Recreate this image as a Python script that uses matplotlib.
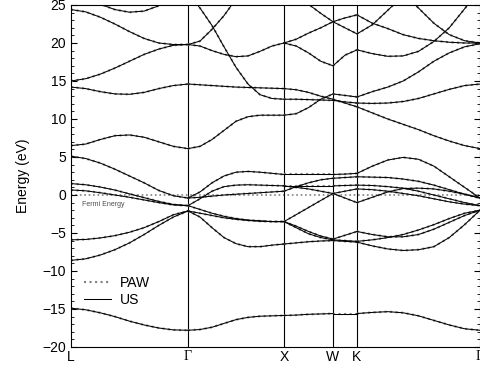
import numpy as np
import matplotlib.pyplot as plt
from matplotlib.ticker import MultipleLocator
from matplotlib.lines import Line2D

plt.rcParams['font.family'] = ['Liberation Sans', 'DejaVu Sans']

# high symmetry points along the path
kpoints = [0.0, 1.17, 2.13, 2.62, 2.86, 4.09]
klabels = ['L', 'Γ', 'X', 'W', 'K', 'Γ']

# band energies (eV) sampled evenly along each segment
bands_LG = [
    [24.4, 24.1, 23.4, 22.5, 21.5, 20.6, 20.0, 19.8, 19.8],
    [15.0, 15.3, 15.9, 16.7, 17.6, 18.5, 19.2, 19.7, 19.8],
    [14.2, 14.0, 13.6, 13.3, 13.25, 13.5, 14.0, 14.4, 14.6],
    [6.5, 6.7, 7.3, 7.8, 7.9, 7.6, 7.0, 6.4, 6.1],
    [26.6, 25.9, 25.1, 24.4, 24.05, 24.2, 24.9, 25.8, 26.6],
    [5.1, 4.8, 4.2, 3.4, 2.5, 1.6, 0.6, -0.1, -0.4],
    [1.5, 1.35, 1.05, 0.65, 0.15, -0.35, -0.85, -1.25, -1.4],
    [0.66, 0.55, 0.3, 0.0, -0.3, -0.65, -1.0, -1.3, -1.4],
    [-5.9, -5.85, -5.65, -5.35, -4.9, -4.3, -3.5, -2.6, -2.1],
    [-8.6, -8.4, -7.9, -7.2, -6.3, -5.2, -4.0, -2.9, -2.1],
    [-14.9, -15.1, -15.5, -16.0, -16.6, -17.1, -17.5, -17.75, -17.8],
]

bands_GX = [
    [19.8, 20.25, 21.8, 23.6, 25.8, 27.6, 29.0, 30.0, 30.5],
    [26.5, 24.6, 22.3, 19.5, 16.8, 14.6, 13.2, 12.7, 12.6],
    [19.8, 19.6, 19.0, 18.5, 18.2, 18.3, 18.9, 19.6, 20.0],
    [14.6, 14.5, 14.4, 14.3, 14.2, 14.15, 14.1, 14.05, 14.0],
    [6.1, 6.4, 7.3, 8.5, 9.7, 10.3, 10.5, 10.5, 10.5],
    [-0.4, 0.4, 1.6, 2.5, 3.0, 3.1, 3.0, 2.85, 2.7],
    [-1.4, -0.5, 0.5, 1.1, 1.3, 1.35, 1.3, 1.25, 1.2],
    [-0.4, -0.3, -0.15, 0.0, 0.1, 0.2, 0.3, 0.4, 0.5],
    [-1.4, -1.9, -2.4, -2.8, -3.1, -3.3, -3.4, -3.5, -3.5],
    [-2.1, -2.4, -2.7, -3.0, -3.2, -3.35, -3.45, -3.5, -3.5],
    [-2.1, -2.9, -4.3, -5.6, -6.4, -6.8, -6.8, -6.6, -6.45],
    [-17.8, -17.7, -17.4, -16.9, -16.4, -16.1, -15.95, -15.9, -15.85],
]

bands_XW = [
    [27.5, 26.3, 25.1, 23.9, 22.8],
    [20.0, 20.5, 21.3, 22.0, 22.8],
    [20.0, 19.6, 18.7, 17.6, 17.0],
    [14.0, 13.85, 13.5, 13.0, 12.6],
    [12.6, 12.6, 12.55, 12.5, 12.45],
    [10.5, 10.7, 11.5, 12.6, 13.3],
    [2.7, 2.7, 2.7, 2.7, 2.7],
    [0.5, 1.1, 1.6, 2.0, 2.2],
    [1.2, 1.2, 1.2, 1.2, 1.2],
    [1.2, 1.0, 0.8, 0.5, 0.2],
    [-3.5, -2.58, -1.65, -0.72, 0.2],
    [-3.5, -4.1, -4.8, -5.4, -5.8],
    [-3.5, -4.3, -5.1, -5.6, -5.9],
    [-6.45, -6.3, -6.15, -6.05, -6.0],
    [-15.85, -15.8, -15.7, -15.65, -15.6],
]

bands_WK = [
    [22.8, 22.0, 21.2],
    [22.8, 23.3, 23.7],
    [17.0, 18.4, 19.1],
    [12.6, 12.1, 11.6],
    [12.45, 12.25, 12.1],
    [13.3, 13.1, 12.9],
    [2.7, 2.75, 2.85],
    [2.2, 2.3, 2.4],
    [1.2, 1.25, 1.3],
    [0.2, 0.5, 0.8],
    [0.2, -0.4, -1.0],
    [-5.8, -5.3, -4.8],
    [-5.9, -6.0, -6.1],
    [-6.0, -6.1, -6.2],
    [-15.6, -15.6, -15.6],
]

bands_KG = [
    [21.2, 22.4, 24.3, 26.2, 28.0, 29.5, 30.8, 31.8, 32.5],
    [23.7, 22.6, 21.9, 21.1, 20.6, 20.3, 20.1, 20.0, 20.0],
    [32.0, 30.5, 28.5, 26.5, 24.6, 22.6, 21.1, 20.3, 20.0],
    [19.1, 18.6, 18.25, 18.3, 18.9, 20.2, 22.0, 24.5, 27.0],
    [12.9, 13.6, 14.2, 15.0, 16.2, 17.6, 18.7, 19.5, 19.9],
    [12.1, 12.05, 12.1, 12.3, 12.7, 13.3, 13.9, 14.4, 14.6],
    [11.6, 10.8, 10.0, 9.3, 8.6, 7.8, 7.1, 6.5, 6.1],
    [2.85, 3.8, 4.6, 4.95, 4.7, 3.8, 2.4, 1.0, -0.4],
    [2.4, 2.35, 2.3, 2.1, 1.8, 1.3, 0.7, 0.1, -0.4],
    [1.3, 1.25, 1.1, 0.9, 0.5, 0.0, -0.5, -1.0, -1.4],
    [0.8, 0.7, 0.5, 0.2, -0.1, -0.5, -0.9, -1.2, -1.4],
    [-1.0, -0.3, 0.4, 0.85, 0.9, 0.8, 0.5, 0.1, -0.4],
    [-4.8, -5.2, -5.5, -5.5, -5.2, -4.5, -3.6, -2.7, -2.0],
    [-6.1, -5.9, -5.6, -5.2, -4.6, -3.9, -3.1, -2.4, -2.0],
    [-6.2, -6.7, -7.1, -7.3, -7.2, -6.8, -5.6, -3.9, -2.0],
    [-15.6, -15.45, -15.35, -15.5, -15.9, -16.5, -17.1, -17.6, -17.8],
]

segments = [bands_LG, bands_GX, bands_XW, bands_WK, bands_KG]

fig = plt.figure(figsize=(4.81, 3.72), dpi=100)
ax = fig.add_axes([71 / 481, 1 - 347 / 372, (480 - 71) / 481, (347 - 5) / 372])

for i, seg in enumerate(segments):
    k = np.linspace(kpoints[i], kpoints[i + 1], len(seg[0]))
    for e in seg:
        # PAW dotted underneath, US solid on top
        ax.plot(k, e, linestyle=':', color='0.5', lw=1.5, zorder=2)
        ax.plot(k, e, linestyle='-', color='k', lw=0.75, zorder=3)

# Fermi level
ax.axhline(0, linestyle=':', color='0.5', lw=1.2, zorder=1)
ax.text(0.11, -1.2, 'Fermi Energy', fontsize=5, color='0.3', va='center')

for kp in kpoints[1:-1]:
    ax.axvline(kp, color='k', lw=0.8, zorder=1)

ax.set_xlim(kpoints[0], kpoints[-1])
ax.set_ylim(-20, 25)
ax.set_xticks(kpoints)
ax.set_xticklabels(klabels)
for lab in ax.get_xticklabels():
    if lab.get_text() == 'Γ':
        lab.set_family('Liberation Serif')
ax.tick_params(axis='x', length=0, labelsize=10, pad=2)
ax.yaxis.set_major_locator(MultipleLocator(5))
ax.yaxis.set_minor_locator(MultipleLocator(1))
ax.tick_params(axis='y', which='major', direction='in', length=4, right=True, labelsize=10)
ax.tick_params(axis='y', which='minor', direction='in', length=2, right=True)
ax.set_ylabel('Energy (eV)', fontsize=10, labelpad=9)
for sp in ax.spines.values():
    sp.set_linewidth(0.8)

handles = [Line2D([], [], linestyle=':', color='0.5', lw=1.5),
           Line2D([], [], linestyle='-', color='k', lw=0.75)]
ax.legend(handles, ['PAW', 'US'], loc='lower left', bbox_to_anchor=(0.0, 0.08),
          frameon=False, fontsize=10, handlelength=2.0, handletextpad=0.6,
          labelspacing=0.25)

fig.savefig('out.png', dpi=100)
